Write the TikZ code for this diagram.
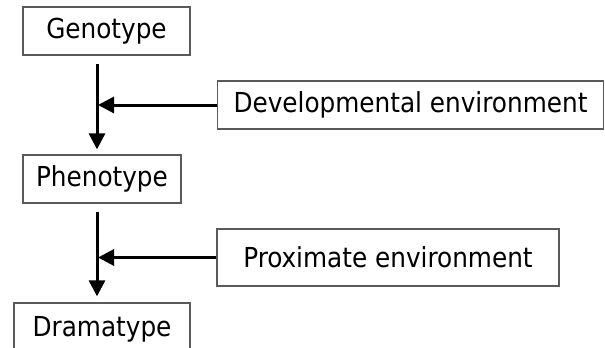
\documentclass[tikz,border=0pt]{standalone}
\usepackage{fontspec}
\setmainfont{DejaVu Sans Condensed}
\usepackage{tikz}
\usetikzlibrary{arrows.meta, positioning, calc}
\definecolor{boxgray}{RGB}{90, 90, 90}

\begin{document}
\begin{tikzpicture}[x=1pt, y=-1pt,
    typebox/.style={draw=boxgray, line width=1.3pt, inner sep=0pt, font=\fontsize{27.5}{32}\selectfont},
    flow/.style={line width=3pt, -{Triangle[length=16pt, width=16pt]}}]
  \useasboundingbox (0, 0) rectangle (605, 348);
  \clip (0, 0) rectangle (605, 348);

  % Main chain
  \node[typebox, minimum width=167pt, minimum height=48pt] (geno) at (106.5, 31) {Genotype};
  \node[typebox, minimum width=158pt, minimum height=48pt] (pheno) at (102, 179) {Phenotype};
  \node[typebox, minimum width=176pt, minimum height=52pt] (drama) at (102, 329) {Dramatype};

  % Environment boxes
  \node[typebox, minimum width=386pt, minimum height=48pt] (devenv) at (410.5, 105) {Developmental environment};
  \node[typebox, minimum width=342pt, minimum height=57pt] (proxenv) at (388, 257.5) {Proximate environment};

  % Spine of the arrows
  \coordinate (spine) at (97, 0);

  % Arrows
  \draw[flow] ([yshift=-8pt]geno.south -| spine) -- ([yshift=5pt]pheno.north -| spine);
  \draw[flow] (devenv.west) -- ([xshift=1pt]spine |- devenv.west);
  \draw[flow] ([yshift=-8pt]pheno.south -| spine) -- ([yshift=6pt]drama.north -| spine);
  \draw[flow] (proxenv.west) -- ([xshift=1pt]spine |- proxenv.west);
\end{tikzpicture}
\end{document}
